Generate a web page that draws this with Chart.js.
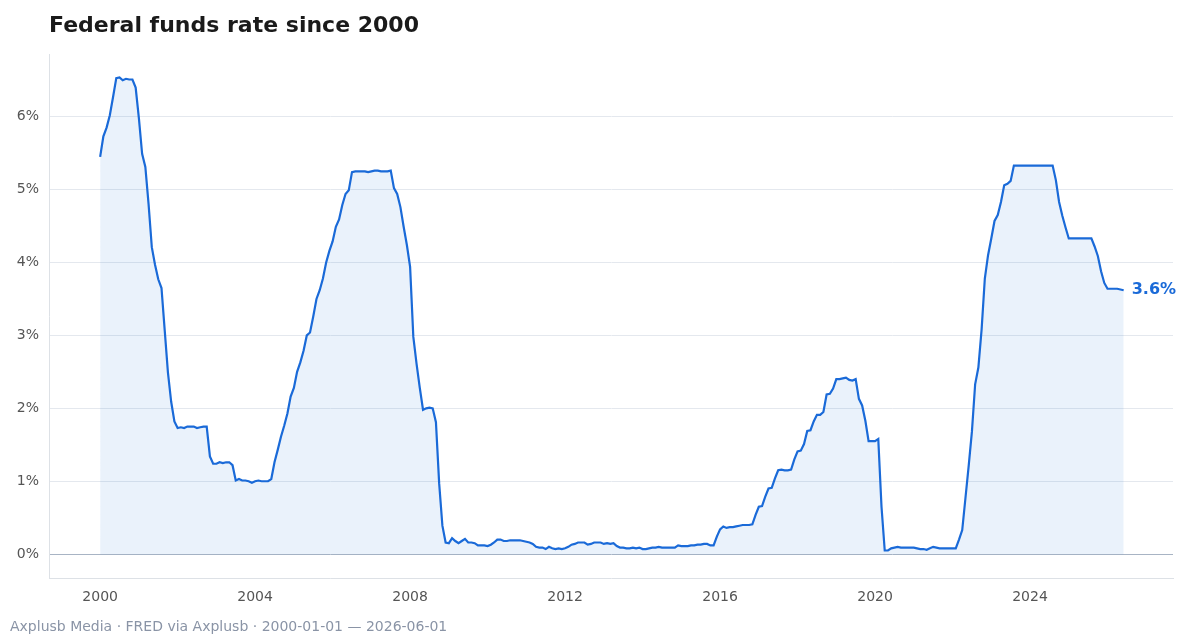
<!DOCTYPE html>
<html>
<head>
<meta charset="utf-8">
<script src="https://cdn.jsdelivr.net/npm/chart.js@4/dist/chart.umd.min.js"></script>
<style>
  html, body { margin: 0; padding: 0; background: #fff; }
  #wrap { width: 1200px; height: 640px; }
</style>
</head>
<body>
<div id="wrap"><canvas id="chartCanvas" width="1200" height="640"></canvas></div>
<script>
// monthly effective federal funds rate, Jan 2000 .. Jun 2026
const startYear = 2000;
const rates = [
  5.45,5.73,5.85,6.02,6.27,6.53,6.54,6.50,6.52,6.51,6.51,6.40,
  5.98,5.49,5.31,4.80,4.21,3.97,3.77,3.65,3.07,2.49,2.09,1.82,
  1.73,1.74,1.73,1.75,1.75,1.75,1.73,1.74,1.75,1.75,1.34,1.24,
  1.24,1.26,1.25,1.26,1.26,1.22,1.01,1.03,1.01,1.01,1.00,0.98,
  1.00,1.01,1.00,1.00,1.00,1.03,1.26,1.43,1.61,1.76,1.93,2.16,
  2.28,2.50,2.63,2.79,3.00,3.04,3.26,3.50,3.62,3.78,4.00,4.16,
  4.29,4.49,4.59,4.79,4.94,4.99,5.24,5.25,5.25,5.25,5.25,5.24,
  5.25,5.26,5.26,5.25,5.25,5.25,5.26,5.02,4.94,4.76,4.49,4.24,
  3.94,2.98,2.61,2.28,1.98,2.00,2.01,2.00,1.81,0.97,0.39,0.16,
  0.15,0.22,0.18,0.15,0.18,0.21,0.16,0.16,0.15,0.12,0.12,0.12,
  0.11,0.13,0.16,0.20,0.20,0.18,0.18,0.19,0.19,0.19,0.19,0.18,
  0.17,0.16,0.14,0.10,0.09,0.09,0.07,0.10,0.08,0.07,0.08,0.07,
  0.08,0.10,0.13,0.14,0.16,0.16,0.16,0.13,0.14,0.16,0.16,0.16,
  0.14,0.15,0.14,0.15,0.11,0.09,0.09,0.08,0.08,0.09,0.08,0.09,
  0.07,0.07,0.08,0.09,0.09,0.10,0.09,0.09,0.09,0.09,0.09,0.12,
  0.11,0.11,0.11,0.12,0.12,0.13,0.13,0.14,0.14,0.12,0.12,0.24,
  0.34,0.38,0.36,0.37,0.37,0.38,0.39,0.40,0.40,0.40,0.41,0.54,
  0.65,0.66,0.79,0.90,0.91,1.04,1.15,1.16,1.15,1.15,1.16,1.30,
  1.41,1.42,1.51,1.69,1.70,1.82,1.91,1.91,1.95,2.19,2.20,2.27,
  2.40,2.40,2.41,2.42,2.39,2.38,2.40,2.13,2.04,1.83,1.55,1.55,
  1.55,1.58,0.65,0.05,0.05,0.08,0.09,0.10,0.09,0.09,0.09,0.09,
  0.09,0.08,0.07,0.07,0.06,0.08,0.10,0.09,0.08,0.08,0.08,0.08,
  0.08,0.08,0.20,0.33,0.77,1.21,1.68,2.33,2.56,3.08,3.78,4.10,
  4.33,4.57,4.65,4.83,5.06,5.08,5.12,5.33,5.33,5.33,5.33,5.33,
  5.33,5.33,5.33,5.33,5.33,5.33,5.33,5.33,5.13,4.83,4.64,4.48,
  4.33,4.33,4.33,4.33,4.33,4.33,4.33,4.33,4.22,4.09,3.88,3.72,
  3.64,3.64,3.64,3.64,3.63,3.62
];
const yTicks = [0, 1, 2, 3, 4, 5, 6];
const xTicks = [2000, 2004, 2008, 2012, 2016, 2020, 2024];
const lastLabel = "3.6%";
const titleText = "Federal funds rate since 2000";
const footerText = "Axplusb Media · FRED via Axplusb · 2000-01-01 — 2026-06-01";

const blue = "#1a6ad8";
const font = "'DejaVu Sans', sans-serif";
const points = rates.map((r, i) => ({ x: startYear + i / 12, y: r }));

const decorations = {
  id: "decorations",
  afterDatasetsDraw(chart) {
    const meta = chart.getDatasetMeta(0);
    const pt = meta.data[meta.data.length - 1];
    const ctx = chart.ctx;
    ctx.save();
    ctx.font = "bold 16px " + font;
    ctx.fillStyle = blue;
    ctx.textBaseline = "middle";
    ctx.fillText(lastLabel, pt.x + 8, pt.y);

    ctx.textBaseline = "alphabetic";
    ctx.font = "bold 22px " + font;
    ctx.fillStyle = "#1a1a1a";
    ctx.fillText(titleText, 49, 32);

    ctx.font = "14px " + font;
    ctx.fillStyle = "#8a94a6";
    ctx.fillText(footerText, 10, 631);
    ctx.restore();
  }
};

new Chart(document.getElementById("chartCanvas"), {
  type: "line",
  data: {
    datasets: [{
      data: points,
      borderColor: blue,
      borderWidth: 2.2,
      backgroundColor: "rgba(26,106,216,0.09)",
      fill: "origin",
      pointRadius: 0,
      tension: 0
    }]
  },
  options: {
    responsive: false,
    animation: false,
    layout: { padding: { left: 4, right: 27, top: 54, bottom: 31 } },
    plugins: {
      legend: { display: false },
      tooltip: { enabled: false }
    },
    scales: {
      x: {
        type: "linear",
        min: 1998.68,
        max: 2027.69,
        afterBuildTicks(axis) { axis.ticks = xTicks.map(v => ({ value: v })); },
        ticks: {
          color: "#555",
          font: { family: font, size: 14 },
          callback: v => String(v)
        },
        grid: { display: false },
        border: { color: "#dde1e6" }
      },
      y: {
        min: -0.33,
        max: 6.86,
        afterBuildTicks(axis) { axis.ticks = yTicks.map(v => ({ value: v })); },
        afterFit(axis) { axis.width = 45; },
        ticks: {
          color: "#555",
          padding: 10,
          font: { family: font, size: 14 },
          callback: v => v + "%"
        },
        grid: {
          color: ctx => ctx.tick && ctx.tick.value === 0 ? "#a8b4c4" : "#e4e8ee",
          lineWidth: 1,
          drawTicks: false
        },
        border: { color: "#dde1e6" }
      }
    }
  },
  plugins: [decorations]
});
</script>
</body>
</html>
